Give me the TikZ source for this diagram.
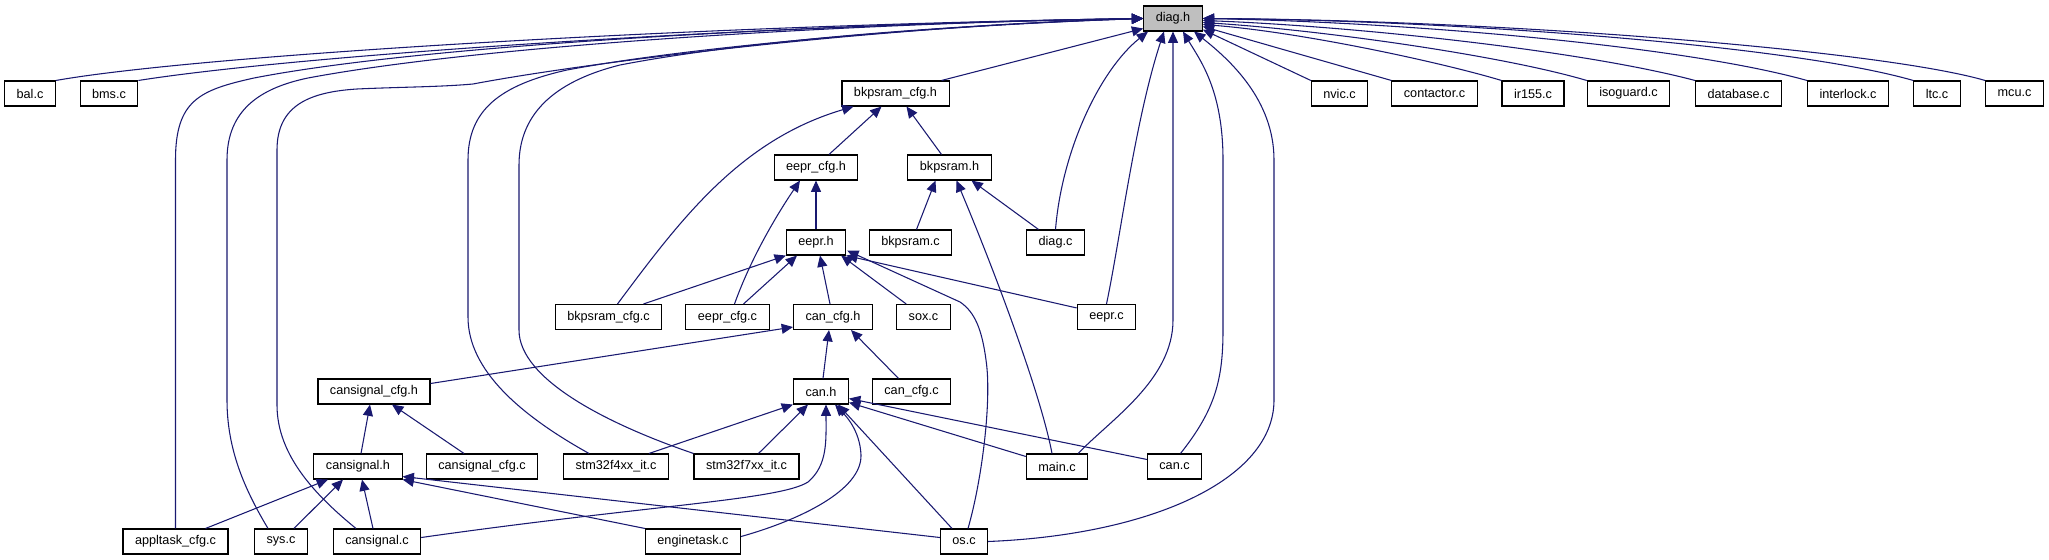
\documentclass[tikz,border=0pt]{standalone}
\usepackage{fontspec}
\setmainfont{Liberation Sans}
\usetikzlibrary{calc,arrows.meta}
\definecolor{edgeblue}{HTML}{191970}
\begin{document}
\begin{tikzpicture}[x=0.75pt,y=-0.75pt,
  file/.style={draw=black,line width=0.8pt,fill=white,font=\fontsize{9.5}{11}\selectfont,minimum height=18.75pt,inner xsep=9pt,inner ysep=0pt},
  dep/.style={edgeblue,line width=0.8pt,-{Triangle[length=8.5pt,width=7.5pt]}}]
\useasboundingbox (0,0) rectangle (2049,560);
\node[file,fill=black!25] (diagh) at (1173,18.5) {diag.h};
\node[file] (balc) at (30,93.5) {bal.c}; \node[file] (bmsc) at (109,93.5) {bms.c};
\node[file] (bkpsramcfgh) at (895.5,93.5) {bkpsram\_cfg.h};
\node[file] (nvicc) at (1339.5,93.5) {nvic.c}; \node[file] (contactorc) at (1434.5,93.5) {contactor.c};
\node[file] (irc) at (1533,93.5) {ir155.c}; \node[file] (isoguardc) at (1628.5,93.5) {isoguard.c};
\node[file] (databasec) at (1738.5,93.5) {database.c}; \node[file] (interlockc) at (1848,93.5) {interlock.c};
\node[file] (ltcc) at (1937,93.5) {ltc.c}; \node[file] (mcuc) at (2014.5,93.5) {mcu.c};
\node[file] (eeprcfgh) at (816,167.5) {eepr\_cfg.h}; \node[file] (bkpsramh) at (949.5,167.5) {bkpsram.h};
\node[file] (eeprh) at (816,242.5) {eepr.h}; \node[file] (bkpsramc) at (910.5,242.5) {bkpsram.c};
\node[file] (diagc) at (1055.5,242.5) {diag.c};
\node[file] (bkpsramcfgc) at (608.5,317) {bkpsram\_cfg.c}; \node[file] (eeprcfgc) at (727.5,317) {eepr\_cfg.c};
\node[file] (cancfgh) at (833,317) {can\_cfg.h}; \node[file] (soxc) at (923.5,317) {sox.c};
\node[file] (eeprc) at (1106.5,317) {eepr.c};
\node[file] (cansignalcfgh) at (374,391.5) {cansignal\_cfg.h}; \node[file] (canh) at (821,391.5) {can.h};
\node[file] (cancfgc) at (911.5,391.5) {can\_cfg.c};
\node[file] (cansignalh) at (358,466.5) {cansignal.h}; \node[file] (cansignalcfgc) at (482,466.5) {cansignal\_cfg.c};
\node[file] (stmfc) at (616,466.5) {stm32f4xx\_it.c}; \node[file] (stmsc) at (746.5,466.5) {stm32f7xx\_it.c};
\node[file] (mainc) at (1057,466.5) {main.c}; \node[file] (canc) at (1174.5,466.5) {can.c};
\node[file] (appltaskcfgc) at (175.5,541.5) {appltask\_cfg.c}; \node[file] (sysc) at (281,541.5) {sys.c};
\node[file] (cansignalc) at (377,541.5) {cansignal.c}; \node[file] (enginetaskc) at (693,541.5) {enginetask.c};
\node[file] (osc) at (964,541.5) {os.c};
\draw[dep] (balc.north east) .. controls (200,55) and (700,25) .. (diagh.west);
\draw[dep] (bmsc.north east) .. controls (300,55) and (750,25) .. (diagh.west);
\draw[dep] (appltaskcfgc.north) -- (175.5,160) .. controls (175.5,100) and (200,90) .. (254,78) .. controls (450,40) and (900,22) .. (diagh.west);
\draw[dep] ($(sysc.north)+(-13,0)$) .. controls (245,490) and (227,450) .. (227,400) -- (227,160) .. controls (227,110) and (260,88) .. (308,78) .. controls (500,42) and (900,22) .. (diagh.west);
\draw[dep] ($(cansignalc.north)+(-21,0)$) .. controls (315,495) and (277,455) .. (277,405) -- (277,150) .. controls (277,105) and (310,92) .. (357,89) .. controls (400,87) and (440,87) .. (473,84) .. controls (600,60) and (900,25) .. (diagh.west);
\draw[dep] ($(stmfc.north)+(-27,0)$) .. controls (520,415) and (468,370) .. (468,317) -- (468,160) .. controls (468,110) and (500,85) .. (567,70) .. controls (700,45) and (950,25) .. (diagh.west);
\draw[dep] (stmsc.north west) .. controls (610,425) and (519,380) .. (519,330) -- (519,165) .. controls (519,110) and (560,80) .. (620,65) .. controls (750,40) and (950,25) .. (diagh.west);
\draw[dep] ($(bkpsramcfgh.north east)+(-8,0)$) -- ($(diagh.west)+(0,10)$);
\draw[dep] (diagc.north) .. controls (1062,150) and (1100,70) .. ($(diagh.south)+(-25,0)$);
\draw[dep] (eeprc.north) .. controls (1120,240) and (1135,120) .. ($(diagh.south)+(-9,0)$);
\draw[dep] ($(mainc.north east)+(-10,0)$) .. controls (1110,420) and (1173,380) .. (1173,320) -- (diagh.south);
\draw[dep] ($(canc.north)+(6,0)$) .. controls (1215,410) and (1223,380) .. (1223,330) -- (1223,160) .. controls (1223,90) and (1200,60) .. ($(diagh.south)+(10,0)$);
\draw[dep] (osc.east) .. controls (1150,535) and (1274,480) .. (1274,400) -- (1274,160) .. controls (1274,100) and (1230,60) .. ($(diagh.south)+(21,0)$);
\draw[dep] (nvicc.north west) -- ($(diagh.south east)+(0,-2)$);
\draw[dep] (contactorc.north west) -- ($(diagh.east)+(0,8)$);
\draw[dep] (irc.north west) .. controls (1440,62) and (1300,32) .. ($(diagh.east)+(0,6)$);
\draw[dep] (isoguardc.north west) .. controls (1500,55) and (1320,30) .. ($(diagh.east)+(0,4)$);
\draw[dep] (databasec.north west) .. controls (1580,50) and (1350,26) .. ($(diagh.east)+(0,2)$);
\draw[dep] (interlockc.north west) .. controls (1680,45) and (1400,22) .. (diagh.east);
\draw[dep] (ltcc.north west) .. controls (1790,45) and (1450,20) .. (diagh.east);
\draw[dep] (mcuc.north west) .. controls (1880,50) and (1500,20) .. (diagh.east);
\draw[dep] ($(eeprcfgh.north)+(13,0)$) -- ($(bkpsramcfgh.south)+(-14,0)$);
\draw[dep] ($(bkpsramh.north)+(-8,0)$) -- ($(bkpsramcfgh.south)+(11,0)$);
\draw[dep] ($(bkpsramcfgc.north)+(9,0)$) .. controls (680,220) and (740,140) .. ($(bkpsramcfgh.south)+(-42,0)$);
\draw[dep] (eeprh) -- (eeprcfgh);
\draw[dep] ($(eeprcfgc.north)+(7,0)$) .. controls (752,255) and (780,210) .. ($(eeprcfgh.south)+(-16,0)$);
\draw[dep] ($(bkpsramc.north)+(6,0)$) -- ($(bkpsramh.south)+(-14,0)$);
\draw[dep] ($(diagc.north)+(-17,0)$) -- ($(bkpsramh.south)+(22,0)$);
\draw[dep] ($(mainc.north)+(-5,0)$) .. controls (1040,390) and (990,260) .. ($(bkpsramh.south)+(7,0)$);
\draw[dep] ($(bkpsramcfgc.north)+(35,0)$) -- (eeprh.south west);
\draw[dep] ($(eeprcfgc.north)+(16,0)$) -- ($(eeprh.south)+(-19,0)$);
\draw[dep] ($(cancfgh.north)+(-3,0)$) -- ($(eeprh.south)+(4,0)$);
\draw[dep] ($(soxc.north west)+(10,0)$) -- ($(eeprh.south east)+(-5,0)$);
\draw[dep] ($(eeprc.north west)+(0,4)$) -- (eeprh.south east);
\draw[dep] ($(osc.north)+(4,0)$) .. controls (982,480) and (992,400) .. (986,360) .. controls (982,330) and (975,312) .. (960,302) -- ($(eeprh.south east)+(1,-5)$);
\draw[dep] ($(cansignalcfgh.east)+(0,-8)$) -- ($(cancfgh.south west)+(0,-3)$);
\draw[dep] ($(canh.north)+(2,0)$) -- ($(cancfgh.south)+(-4,0)$);
\draw[dep] ($(cancfgc.north)+(-13,0)$) -- ($(cancfgh.south)+(18,0)$);
\draw[dep] ($(cansignalh.north)+(3,0)$) -- ($(cansignalcfgh.south)+(-4,0)$);
\draw[dep] ($(cansignalcfgc.north)+(-18,0)$) -- ($(cansignalcfgh.south)+(18,0)$);
\draw[dep] ($(stmfc.north)+(33,0)$) -- (canh.south west);
\draw[dep] ($(stmsc.north)+(12,0)$) -- ($(canh.south)+(-13,0)$);
\draw[dep] ($(cansignalc.east)+(0,-4)$) .. controls (650,505) and (780,500) .. (808,482) .. controls (828,465) and (826,440) .. ($(canh.south)+(5,0)$);
\draw[dep] ($(enginetaskc.east)+(0,-5)$) .. controls (800,520) and (862,490) .. (861,455) .. controls (860,430) and (845,415) .. ($(canh.south)+(14,0)$);
\draw[dep] ($(osc.north)+(-12,0)$) -- ($(canh.south)+(17,0)$);
\draw[dep] ($(mainc.north west)+(0,3)$) -- ($(canh.south east)+(0,-2)$);
\draw[dep] ($(canc.north west)+(0,6)$) -- ($(canh.south east)+(0,-6)$);
\draw[dep] ($(appltaskcfgc.north)+(30,0)$) -- ($(cansignalh.south)+(-30,0)$);
\draw[dep] ($(sysc.north)+(13,0)$) -- ($(cansignalh.south)+(-15,0)$);
\draw[dep] ($(cansignalc.north)+(-4,0)$) -- ($(cansignalh.south)+(4,0)$);
\draw[dep] (enginetaskc.north west) -- (cansignalh.south east);
\draw[dep] ($(osc.west)+(0,-4)$) -- ($(cansignalh.south east)+(0,-3)$);
\end{tikzpicture}
\end{document}
